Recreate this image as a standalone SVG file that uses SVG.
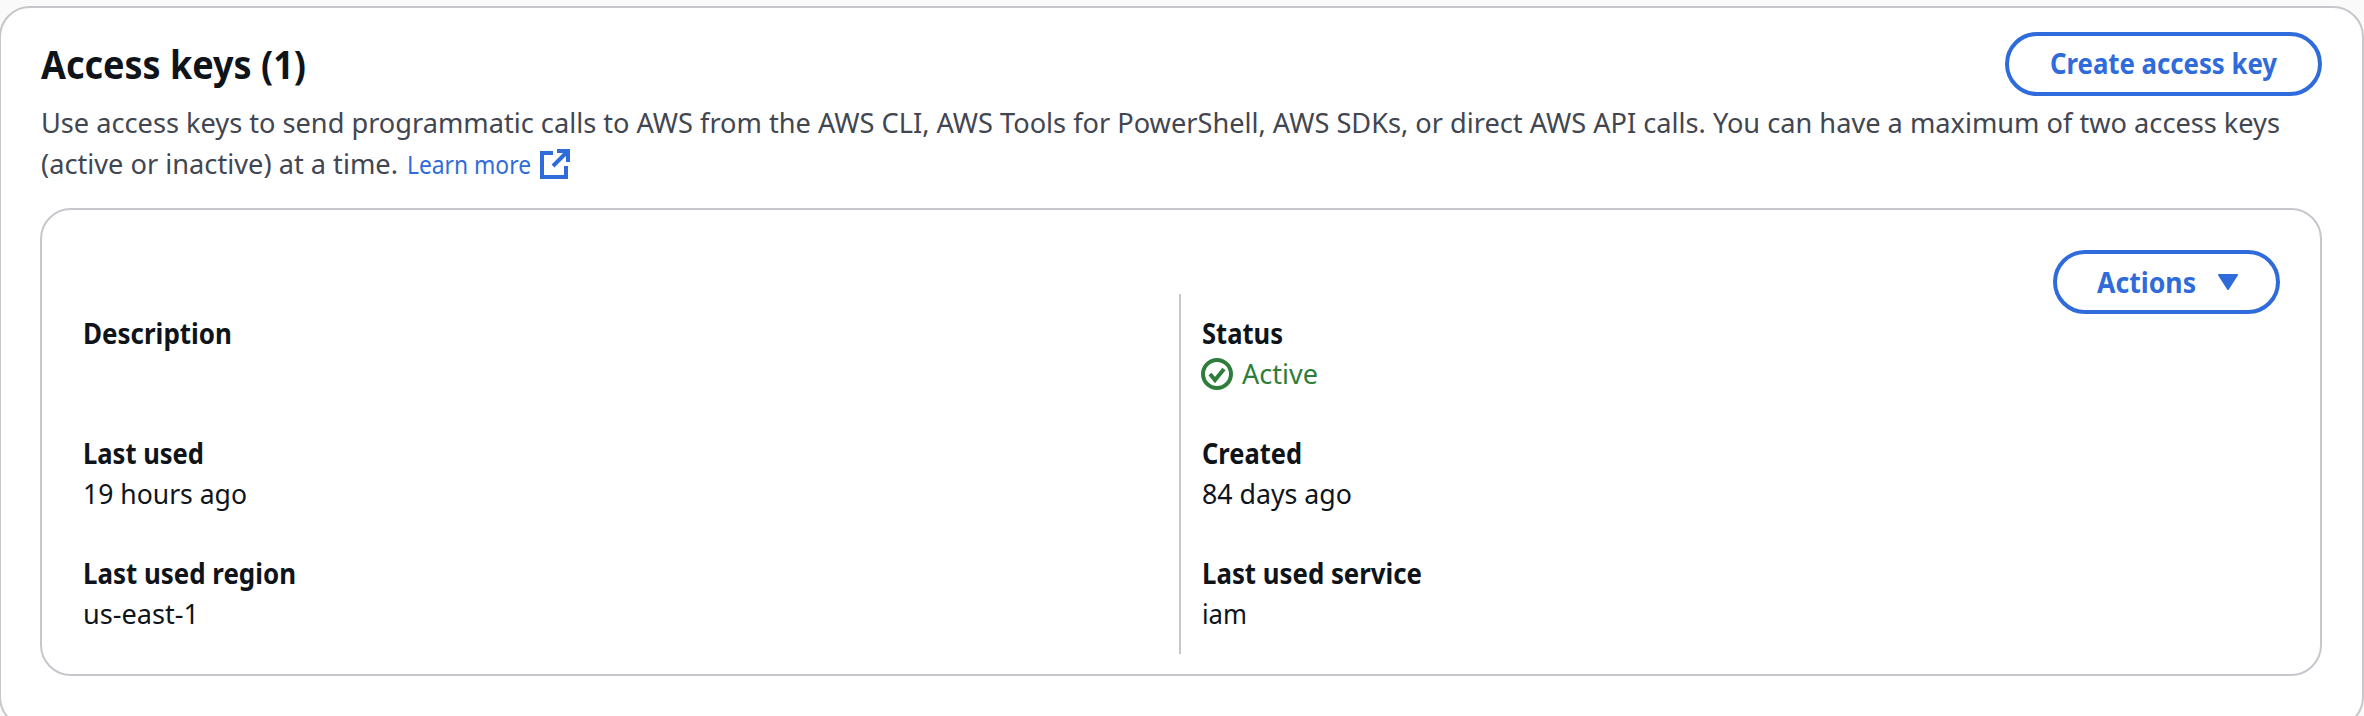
<svg xmlns="http://www.w3.org/2000/svg" width="2364" height="716" viewBox="0 0 2364 716">
<style>
text{font-family:"Noto Sans","Open Sans","Liberation Sans",sans-serif;white-space:pre}
.card{fill:#fff;stroke:#c6c6cd;stroke-width:2}
.btn{fill:#fff;stroke:#2f6bda;stroke-width:4}
.btnt{font-size:28px;font-weight:700;fill:#2f6bda}
.h{font-size:28px;font-weight:700;fill:#0f141a}
.v{font-size:28px;fill:#0f141a}
.b{font-size:28px;fill:#424650}
</style>
<rect width="2364" height="716" fill="#fafafa"/>
<g id="outer-card">
<rect class="card" x="0" y="7" width="2363" height="720" rx="30"/>
<text x="41" y="79" font-size="40" font-weight="700" fill="#0f141a" textLength="265" lengthAdjust="spacingAndGlyphs">Access keys (1)</text>
<text class="b" x="41" y="133" textLength="2239" lengthAdjust="spacingAndGlyphs">Use access keys to send programmatic calls to AWS from the AWS CLI, AWS Tools for PowerShell, AWS SDKs, or direct AWS API calls. You can have a maximum of two access keys</text>
<text class="b" x="41" y="174" textLength="357" lengthAdjust="spacingAndGlyphs">(active or inactive) at a time.</text>
<text x="407" y="174" font-size="25" fill="#2f6bda" textLength="124" lengthAdjust="spacingAndGlyphs">Learn more</text>
<path d="M553 153H542V177H566V166M557 151H568V162M566 153L553 166" fill="none" stroke="#2f6bda" stroke-width="4"/>
</g>
<g id="create-access-key">
<rect class="btn" x="2007" y="34" width="313" height="60" rx="30"/>
<text class="btnt" x="2050" y="74" textLength="227" lengthAdjust="spacingAndGlyphs">Create access key</text>
</g>
<g id="inner-card">
<rect class="card" x="41" y="209" width="2280" height="466" rx="30"/>
<line x1="1180" y1="294" x2="1180" y2="654" stroke="#c6c6cd" stroke-width="2"/>
</g>
<g id="actions">
<rect class="btn" x="2055" y="252" width="223" height="60" rx="30"/>
<text class="btnt" x="2097" y="293" textLength="99" lengthAdjust="spacingAndGlyphs">Actions</text>
<path d="M2219 275H2237L2228 289Z" fill="#2f6bda" stroke="#2f6bda" stroke-width="2" stroke-linejoin="round"/>
</g>
<g id="description"><text class="h" x="83" y="344" textLength="149" lengthAdjust="spacingAndGlyphs">Description</text></g>
<g id="last-used"><text class="h" x="83" y="464" textLength="121" lengthAdjust="spacingAndGlyphs">Last used</text><text class="v" x="83" y="504" textLength="164" lengthAdjust="spacingAndGlyphs">19 hours ago</text></g>
<g id="last-used-region"><text class="h" x="83" y="584" textLength="213" lengthAdjust="spacingAndGlyphs">Last used region</text><text class="v" x="83" y="624" textLength="116" lengthAdjust="spacingAndGlyphs">us-east-1</text></g>
<g id="status"><text class="h" x="1202" y="344" textLength="81" lengthAdjust="spacingAndGlyphs">Status</text>
<circle cx="1217" cy="374" r="14" fill="none" stroke="#2e7d3a" stroke-width="4"/>
<path d="M1210 374L1215 380L1224 369" fill="none" stroke="#2e7d3a" stroke-width="4"/>
<text x="1242" y="384" font-size="28" fill="#2e7d3a" textLength="76" lengthAdjust="spacingAndGlyphs">Active</text></g>
<g id="created"><text class="h" x="1202" y="464" textLength="100" lengthAdjust="spacingAndGlyphs">Created</text><text class="v" x="1202" y="504" textLength="150" lengthAdjust="spacingAndGlyphs">84 days ago</text></g>
<g id="last-used-service"><text class="h" x="1202" y="584" textLength="220" lengthAdjust="spacingAndGlyphs">Last used service</text><text class="v" x="1202" y="624" textLength="45" lengthAdjust="spacingAndGlyphs">iam</text></g>
<g id="connectors"></g>
</svg>
